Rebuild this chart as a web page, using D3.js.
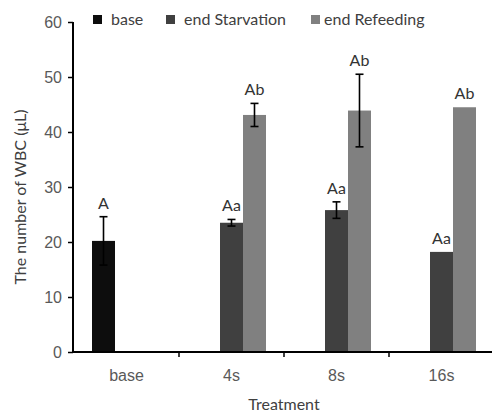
<!DOCTYPE html>
<html>
<head>
<meta charset="utf-8">
<style>
  body { margin: 0; background: #fff; }
  svg { display: block; font-family: "Lato", "Liberation Sans", sans-serif; }
  .tick text { fill: #595959; font-size: 16px; }
</style>
</head>
<body>
<svg width="492" height="414"></svg>
<script src="https://cdn.jsdelivr.net/npm/d3@7/dist/d3.min.js"></script>
<script>

    var categories = ["base", "4s", "8s", "16s"];
    var seriesNames = ["base", "end Starvation", "end Refeeding"];
    var seriesColors = ["#0d0d0d", "#404040", "#808080"];

    // one row per series, one value per category (null = no bar)
    var baseValues = [20.2, null, null, null];
    var starvValues = [null, 23.5, 25.8, 18.2];
    var refeedValues = [null, 43.1, 43.9, 44.5];

    var baseErr = [4.4, null, null, null];
    var starvErr = [null, 0.6, 1.5, 0];
    var refeedErr = [null, 2.1, 6.6, 0];

    var baseLetters = ["A", "", "", ""];
    var starvLetters = ["", "Aa", "Aa", "Aa"];
    var refeedLetters = ["", "Ab", "Ab", "Ab"];

    var yTicks = [0, 10, 20, 30, 40, 50, 60];

    var values = [baseValues, starvValues, refeedValues],
        errors = [baseErr, starvErr, refeedErr],
        letters = [baseLetters, starvLetters, refeedLetters];

    var svg = d3.select("svg"),
        plotL = 73, plotR = 493, plotT = 22, plotB = 352;

    var x = d3.scaleBand()
        .domain(categories)
        .range([plotL + 1, plotR + 1]);

    var groupW = x.bandwidth() * 0.657;
    var xs = d3.scaleBand()
        .domain(d3.range(seriesNames.length))
        .range([(x.bandwidth() - groupW) / 2, (x.bandwidth() + groupW) / 2]);

    var y = d3.scaleLinear()
        .domain([0, 60])
        .range([plotB, plotT]);

    // flatten into bar records
    var bars = [];
    values.forEach(function(row, s) {
        row.forEach(function(v, c) {
            if (v === null) return;
            bars.push({ s: s, cat: categories[c], v: v, e: errors[s][c], t: letters[s][c] });
        });
    });

    var g = svg.append("g");

    g.selectAll("rect.bar")
        .data(bars)
      .enter().append("rect")
        .attr("class", "bar")
        .attr("x", function(d) { return x(d.cat) + xs(d.s); })
        .attr("width", xs.bandwidth())
        .attr("y", function(d) { return y(d.v); })
        .attr("height", function(d) { return y(0) - y(d.v); })
        .attr("fill", function(d) { return seriesColors[d.s]; });

    var errBars = bars.filter(function(d) { return d.e > 0; });
    var cx = function(d) { return x(d.cat) + xs(d.s) + xs.bandwidth() / 2; };

    var eg = g.selectAll("g.err")
        .data(errBars)
      .enter().append("g")
        .attr("class", "err")
        .attr("stroke", "#000")
        .attr("stroke-width", 1.6);
    eg.append("line")
        .attr("x1", cx).attr("x2", cx)
        .attr("y1", function(d) { return y(d.v + d.e); })
        .attr("y2", function(d) { return y(d.v - d.e); });
    eg.append("line")
        .attr("x1", function(d) { return cx(d) - 4; })
        .attr("x2", function(d) { return cx(d) + 4; })
        .attr("y1", function(d) { return y(d.v + d.e); })
        .attr("y2", function(d) { return y(d.v + d.e); });
    eg.append("line")
        .attr("x1", function(d) { return cx(d) - 4; })
        .attr("x2", function(d) { return cx(d) + 4; })
        .attr("y1", function(d) { return y(d.v - d.e); })
        .attr("y2", function(d) { return y(d.v - d.e); });

    // significance letters
    g.selectAll("text.lab")
        .data(bars)
      .enter().append("text")
        .attr("class", "lab")
        .attr("x", cx)
        .attr("y", function(d) { return y(d.v + d.e) - 8; })
        .attr("text-anchor", "middle")
        .attr("fill", "#333")
        .style("font-size", "16px")
        .text(function(d) { return d.t; });

    // axes
    var yAxis = svg.append("g")
        .attr("transform", "translate(" + plotL + ",0)")
        .call(d3.axisLeft(y).tickValues(yTicks).tickSize(5).tickPadding(6));
    yAxis.select(".domain").attr("stroke", "#000").attr("stroke-width", 2).attr("d", "M0," + plotT + "V" + plotB);
    yAxis.selectAll(".tick line").attr("stroke", "#000").attr("stroke-width", 1.5);

    var xAxis = svg.append("g")
        .attr("transform", "translate(0," + plotB + ")")
        .call(d3.axisBottom(x).tickSize(0).tickPadding(18));
    xAxis.select(".domain").attr("stroke", "#000").attr("stroke-width", 2).attr("d", "M" + plotL + ",0H" + plotR);

    // separator ticks between categories
    xAxis.selectAll("line.sep")
        .data(categories.slice(1))
      .enter().append("line")
        .attr("class", "sep")
        .attr("x1", function(d) { return x(d); })
        .attr("x2", function(d) { return x(d); })
        .attr("y1", 0).attr("y2", 5)
        .attr("stroke", "#000").attr("stroke-width", 1.5);

    // axis titles
    svg.append("text")
        .attr("transform", "translate(26," + ((plotT + plotB) / 2 + 10) + ") rotate(-90)")
        .attr("text-anchor", "middle")
        .attr("fill", "#404040")
        .style("font-size", "16px")
        .text("The number of WBC (\u03bcL)");

    svg.append("text")
        .attr("x", 284)
        .attr("y", 410)
        .attr("text-anchor", "middle")
        .attr("fill", "#404040")
        .style("font-size", "16px")
        .text("Treatment");

    // legend
    var legendX = [93, 166, 311];
    var lg = svg.selectAll("g.leg")
        .data(seriesNames)
      .enter().append("g")
        .attr("class", "leg")
        .attr("transform", function(d, i) { return "translate(" + legendX[i] + ",15)"; });
    lg.append("rect")
        .attr("width", 9).attr("height", 9)
        .attr("fill", function(d, i) { return seriesColors[i]; });
    lg.append("text")
        .attr("x", function(d, i) { return i === 2 ? 13 : 18; })
        .attr("y", 10)
        .attr("fill", "#404040")
        .style("font-size", "16px")
        .text(function(d) { return d; });

</script>
</body>
</html>
